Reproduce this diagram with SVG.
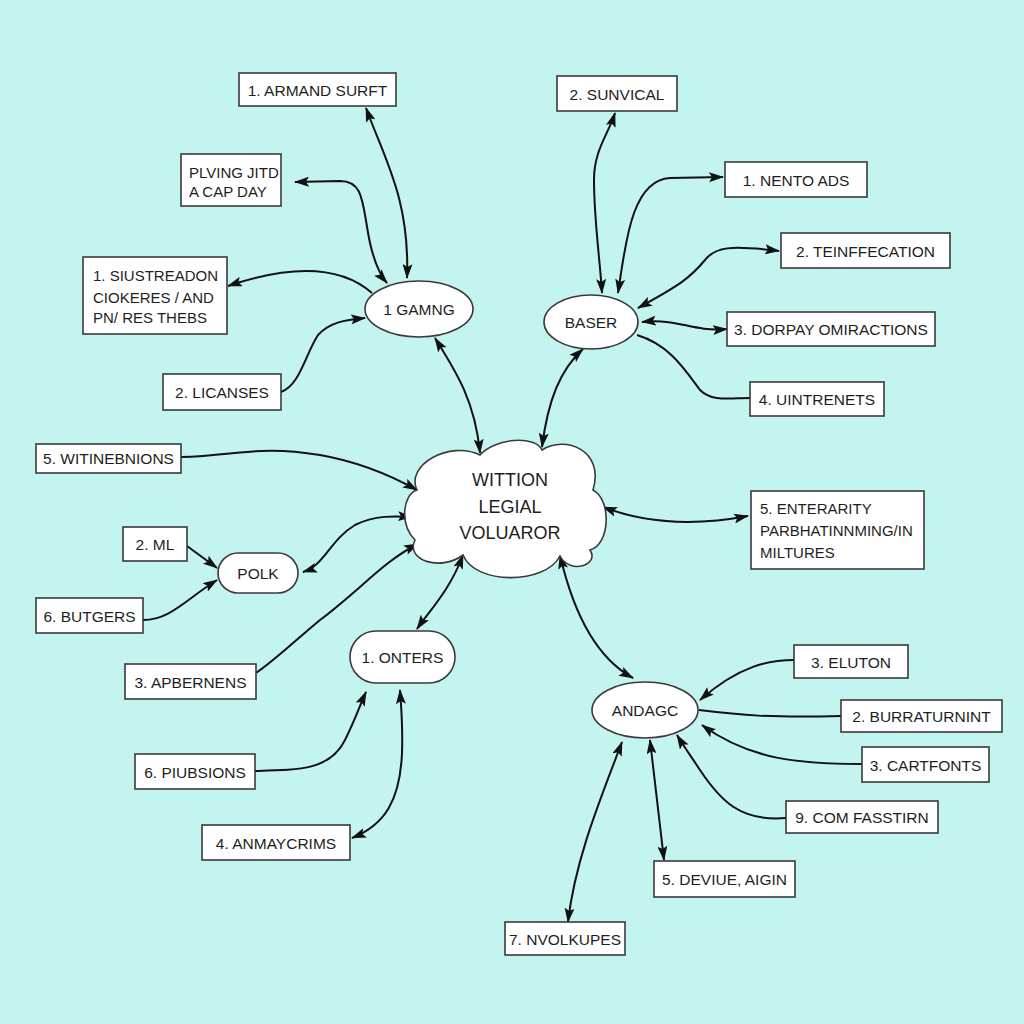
<svg xmlns="http://www.w3.org/2000/svg" width="1024" height="1024" viewBox="0 0 1024 1024">
<style>
.box{fill:#ffffff;stroke:#3a3a3a;stroke-width:1.6}
.lbl{font-family:"Liberation Sans",Arial,sans-serif;font-size:15.5px;fill:#1e1e1e;text-anchor:middle}
.ml{font-family:"Liberation Sans",Arial,sans-serif;font-size:15px;fill:#1e1e1e}
.big{font-family:"Liberation Sans",Arial,sans-serif;font-size:18px;fill:#1e1e1e;text-anchor:middle}
.c{fill:none;stroke:#111;stroke-width:2}
.both{marker-start:url(#ah);marker-end:url(#ah)}
.end{marker-end:url(#ah)}
</style>
<defs>
<marker id="ah" viewBox="0 0 15 10" refX="14" refY="5" markerWidth="15" markerHeight="10" markerUnits="userSpaceOnUse" orient="auto-start-reverse">
<path d="M0,0 L15,5 L0,10 L3,5 Z" fill="#111"/>
</marker>
</defs>
<rect width="1024" height="1024" fill="#c3f4f0"/>

<g id="connectors">
<path class="c both" d="M366,108 C385,160 410,200 407,278"/>
<path class="c both" d="M295,182 L340,181 C365,181 362,205 370,243 C375,265 380,275 387,283"/>
<path class="c end" d="M372,293 C340,265 290,265 228,286"/>
<path class="c end" d="M281,392 C300,385 305,355 318,335 C330,322 345,320 365,318"/>
<path class="c both" d="M435,338 C455,370 475,400 480,453"/>
<path class="c both" d="M615,113 C608,135 594,150 594,180 C594,220 600,260 602,293"/>
<path class="c both" d="M618,293 C625,250 630,180 670,178 L723,177"/>
<path class="c both" d="M638,308 C680,285 690,278 705,260 C715,247 730,245 779,251"/>
<path class="c both" d="M642,322 C680,318 690,332 727,329"/>
<path class="c" d="M637,335 C670,345 685,370 700,390 C712,402 730,398 750,398"/>
<path class="c both" d="M542,447 C548,400 560,370 583,349"/>
<path class="c both" d="M603,507 C650,525 700,525 748,516"/>
<path class="c end" d="M181,457 C240,455 260,445 320,455 C360,462 390,475 417,490"/>
<path class="c both" d="M303,572 C325,565 330,540 355,525 C375,515 395,516 412,517"/>
<path class="c end" d="M256,673 C275,660 290,645 320,620 C360,590 385,560 418,544"/>
<path class="c both" d="M463,555 C450,590 430,610 417,629"/>
<path class="c both" d="M560,555 C575,620 600,660 633,678"/>
<path class="c end" d="M187,546 L217,568"/>
<path class="c end" d="M143,620 C170,620 185,600 217,580"/>
<path class="c end" d="M255,771 C300,770 330,770 345,740 C355,720 360,705 366,692"/>
<path class="c both" d="M352,838 C385,825 400,800 402,753 C403,725 401,705 400,690"/>
<path class="c end" d="M794,660 C770,660 740,665 700,700"/>
<path class="c" d="M699,710 C740,715 770,718 841,716"/>
<path class="c end" d="M862,764 C800,764 750,760 702,725"/>
<path class="c end" d="M786,818 C740,822 720,800 700,770 C690,755 683,745 677,735"/>
<path class="c both" d="M650,740 L664,860"/>
<path class="c both" d="M622,742 C600,800 575,860 568,922"/>
</g>

<g id="cloud">
<path class="box" d="M417,490 C405,465 450,440 480,455 C495,438 535,435 542,450 C565,435 605,450 593,490 C612,500 610,545 590,550 C600,565 570,575 560,556 C545,585 475,585 463,555 C440,572 405,560 415,540 C400,525 402,495 417,490 Z"/>
<text class="big" x="510" y="486">WITTION</text>
<text class="big" x="510" y="513">LEGIAL</text>
<text class="big" x="510" y="539">VOLUAROR</text>
</g>

<g id="n-armand"><rect class="box" x="239" y="73" width="157" height="33"/><text class="lbl" x="317.5" y="95.5">1. ARMAND SURFT</text></g>
<g id="n-plving"><rect class="box" x="181" y="154" width="100" height="52"/><text class="ml" x="189" y="178">PLVING JITD</text><text class="ml" x="189" y="197">A CAP DAY</text></g>
<g id="n-siustreadon"><rect class="box" x="83" y="257" width="144" height="77"/><text class="ml" x="93" y="281">1. SIUSTREADON</text><text class="ml" x="93" y="303">CIOKERES / AND</text><text class="ml" x="93" y="323">PN/ RES THEBS</text></g>
<g id="n-licanses"><rect class="box" x="163" y="374" width="118" height="36"/><text class="lbl" x="222" y="398">2. LICANSES</text></g>
<g id="n-gamng"><ellipse class="box" cx="419" cy="309" rx="54" ry="28"/><text class="lbl" x="419" y="315">1 GAMNG</text></g>

<g id="n-sunvical"><rect class="box" x="557" y="76" width="120" height="35"/><text class="lbl" x="617" y="99.5">2. SUNVICAL</text></g>
<g id="n-nento"><rect class="box" x="725" y="162" width="142" height="35"/><text class="lbl" x="796" y="185.5">1. NENTO ADS</text></g>
<g id="n-teinffecation"><rect class="box" x="781" y="233" width="169" height="35"/><text class="lbl" x="865.5" y="256.5">2. TEINFFECATION</text></g>
<g id="n-dorpay"><rect class="box" x="727" y="312" width="208" height="34"/><text class="lbl" x="831" y="335">3. DORPAY OMIRACTIONS</text></g>
<g id="n-uintrenets"><rect class="box" x="750" y="382" width="134" height="34"/><text class="lbl" x="817" y="405">4. UINTRENETS</text></g>
<g id="n-baser"><ellipse class="box" cx="591" cy="322" rx="47" ry="27"/><text class="lbl" x="591" y="328">BASER</text></g>

<g id="n-witinebnions"><rect class="box" x="36" y="444" width="145" height="29"/><text class="lbl" x="108.5" y="464">5. WITINEBNIONS</text></g>
<g id="n-ml"><rect class="box" x="123" y="527" width="64" height="34"/><text class="lbl" x="155" y="550">2. ML</text></g>
<g id="n-polk"><rect class="box" x="218" y="553" width="80" height="40" rx="20"/><text class="lbl" x="258" y="579">POLK</text></g>
<g id="n-butgers"><rect class="box" x="36" y="598" width="107" height="35"/><text class="lbl" x="89.5" y="621.5">6. BUTGERS</text></g>
<g id="n-apbernens"><rect class="box" x="125" y="664" width="131" height="35"/><text class="lbl" x="190.5" y="687.5">3. APBERNENS</text></g>
<g id="n-onters"><rect class="box" x="350" y="631" width="105" height="52" rx="26"/><text class="lbl" x="402.5" y="663">1. ONTERS</text></g>
<g id="n-piubsions"><rect class="box" x="135" y="754" width="120" height="35"/><text class="lbl" x="195" y="777.5">6. PIUBSIONS</text></g>
<g id="n-anmaycrims"><rect class="box" x="202" y="825" width="148" height="35"/><text class="lbl" x="276" y="848.5">4. ANMAYCRIMS</text></g>

<g id="n-enterarity"><rect class="box" x="751" y="491" width="173" height="78"/><text class="ml" x="760" y="514">5. ENTERARITY</text><text class="ml" x="760" y="536">PARBHATINNMING/IN</text><text class="ml" x="760" y="558">MILTURES</text></g>

<g id="n-andagc"><ellipse class="box" cx="645" cy="710" rx="53" ry="28"/><text class="lbl" x="645" y="716">ANDAGC</text></g>
<g id="n-eluton"><rect class="box" x="794" y="645" width="114" height="33"/><text class="lbl" x="851" y="667.5">3. ELUTON</text></g>
<g id="n-burraturnint"><rect class="box" x="841" y="700" width="161" height="32"/><text class="lbl" x="921.5" y="722">2. BURRATURNINT</text></g>
<g id="n-cartfonts"><rect class="box" x="862" y="747" width="127" height="35"/><text class="lbl" x="925.5" y="770.5">3. CARTFONTS</text></g>
<g id="n-comfasstirn"><rect class="box" x="786" y="801" width="152" height="32"/><text class="lbl" x="862" y="823">9. COM FASSTIRN</text></g>
<g id="n-deviue"><rect class="box" x="654" y="861" width="141" height="36"/><text class="lbl" x="724.5" y="885">5. DEVIUE, AIGIN</text></g>
<g id="n-nvolkupes"><rect class="box" x="505" y="922" width="120" height="33"/><text class="lbl" x="565" y="944.5">7. NVOLKUPES</text></g>
</svg>
